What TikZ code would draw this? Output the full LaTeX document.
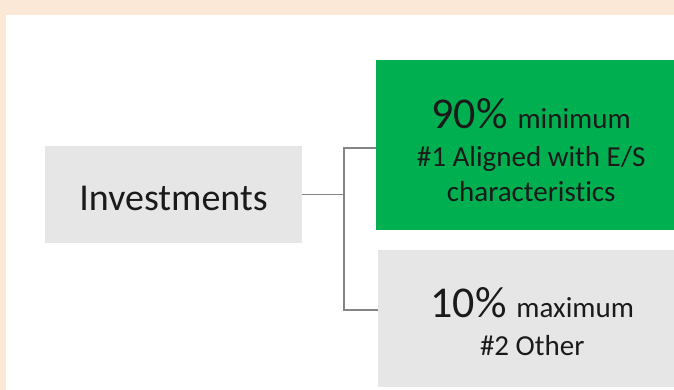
\documentclass[tikz,border=0pt]{standalone}
\usepackage{fontspec}
\setmainfont{Carlito}[Ligatures=NoCommon]
\usetikzlibrary{positioning}
\definecolor{paper}{HTML}{FBE8D6}
\definecolor{boxgreen}{HTML}{00B050}
\definecolor{boxgrey}{HTML}{E6E6E6}
\definecolor{linkgrey}{HTML}{858585}
\definecolor{ink}{HTML}{1A1A1A}
\newcommand{\bigpct}[2]{\rule{0pt}{#1}{\fontsize{44}{50}\selectfont #2\% }}
\begin{document}
\begin{tikzpicture}[x=1pt, y=-1pt,
                    blocknode/.style={rectangle, inner sep=0pt, text=ink, align=center},
                    smalltext/.style={font=\fontsize{29}{35}\selectfont},
                    link/.style={draw=linkgrey, line width=1.2pt}]
                    \useasboundingbox (0,0) rectangle (674,390);
                    \fill[paper] (0,0) rectangle (674,390);
                    \fill[white] (6,15) rectangle (674,390);
                    \clip (0,0) rectangle (674,390);
                    \node[blocknode, fill=boxgrey, minimum width=257pt, minimum height=97pt, text height=32pt, font=\fontsize{38}{46}\selectfont] (0) at (173.5,194.5) {Investments};
                    \node[blocknode, smalltext, fill=boxgreen, minimum width=310pt, minimum height=170pt, anchor=west] (1) at (376,145) {\bigpct{40pt}{90}minimum\\[3pt]\#1 Aligned with E/S\\characteristics};
                    \node[blocknode, smalltext, fill=boxgrey, minimum width=308pt, minimum height=137pt, anchor=west] (2) at (378,318.5) {\bigpct{37pt}{10}maximum\\[3pt]\#2 Other};
                    \coordinate (fork) at (344,194.5);
                    \draw[link] (0.east) -- (fork) |- ([yshift=-3pt]1.west);
                    \draw[link] (fork) |- ([yshift=8.5pt]2.west);
                \end{tikzpicture}
\end{document}
